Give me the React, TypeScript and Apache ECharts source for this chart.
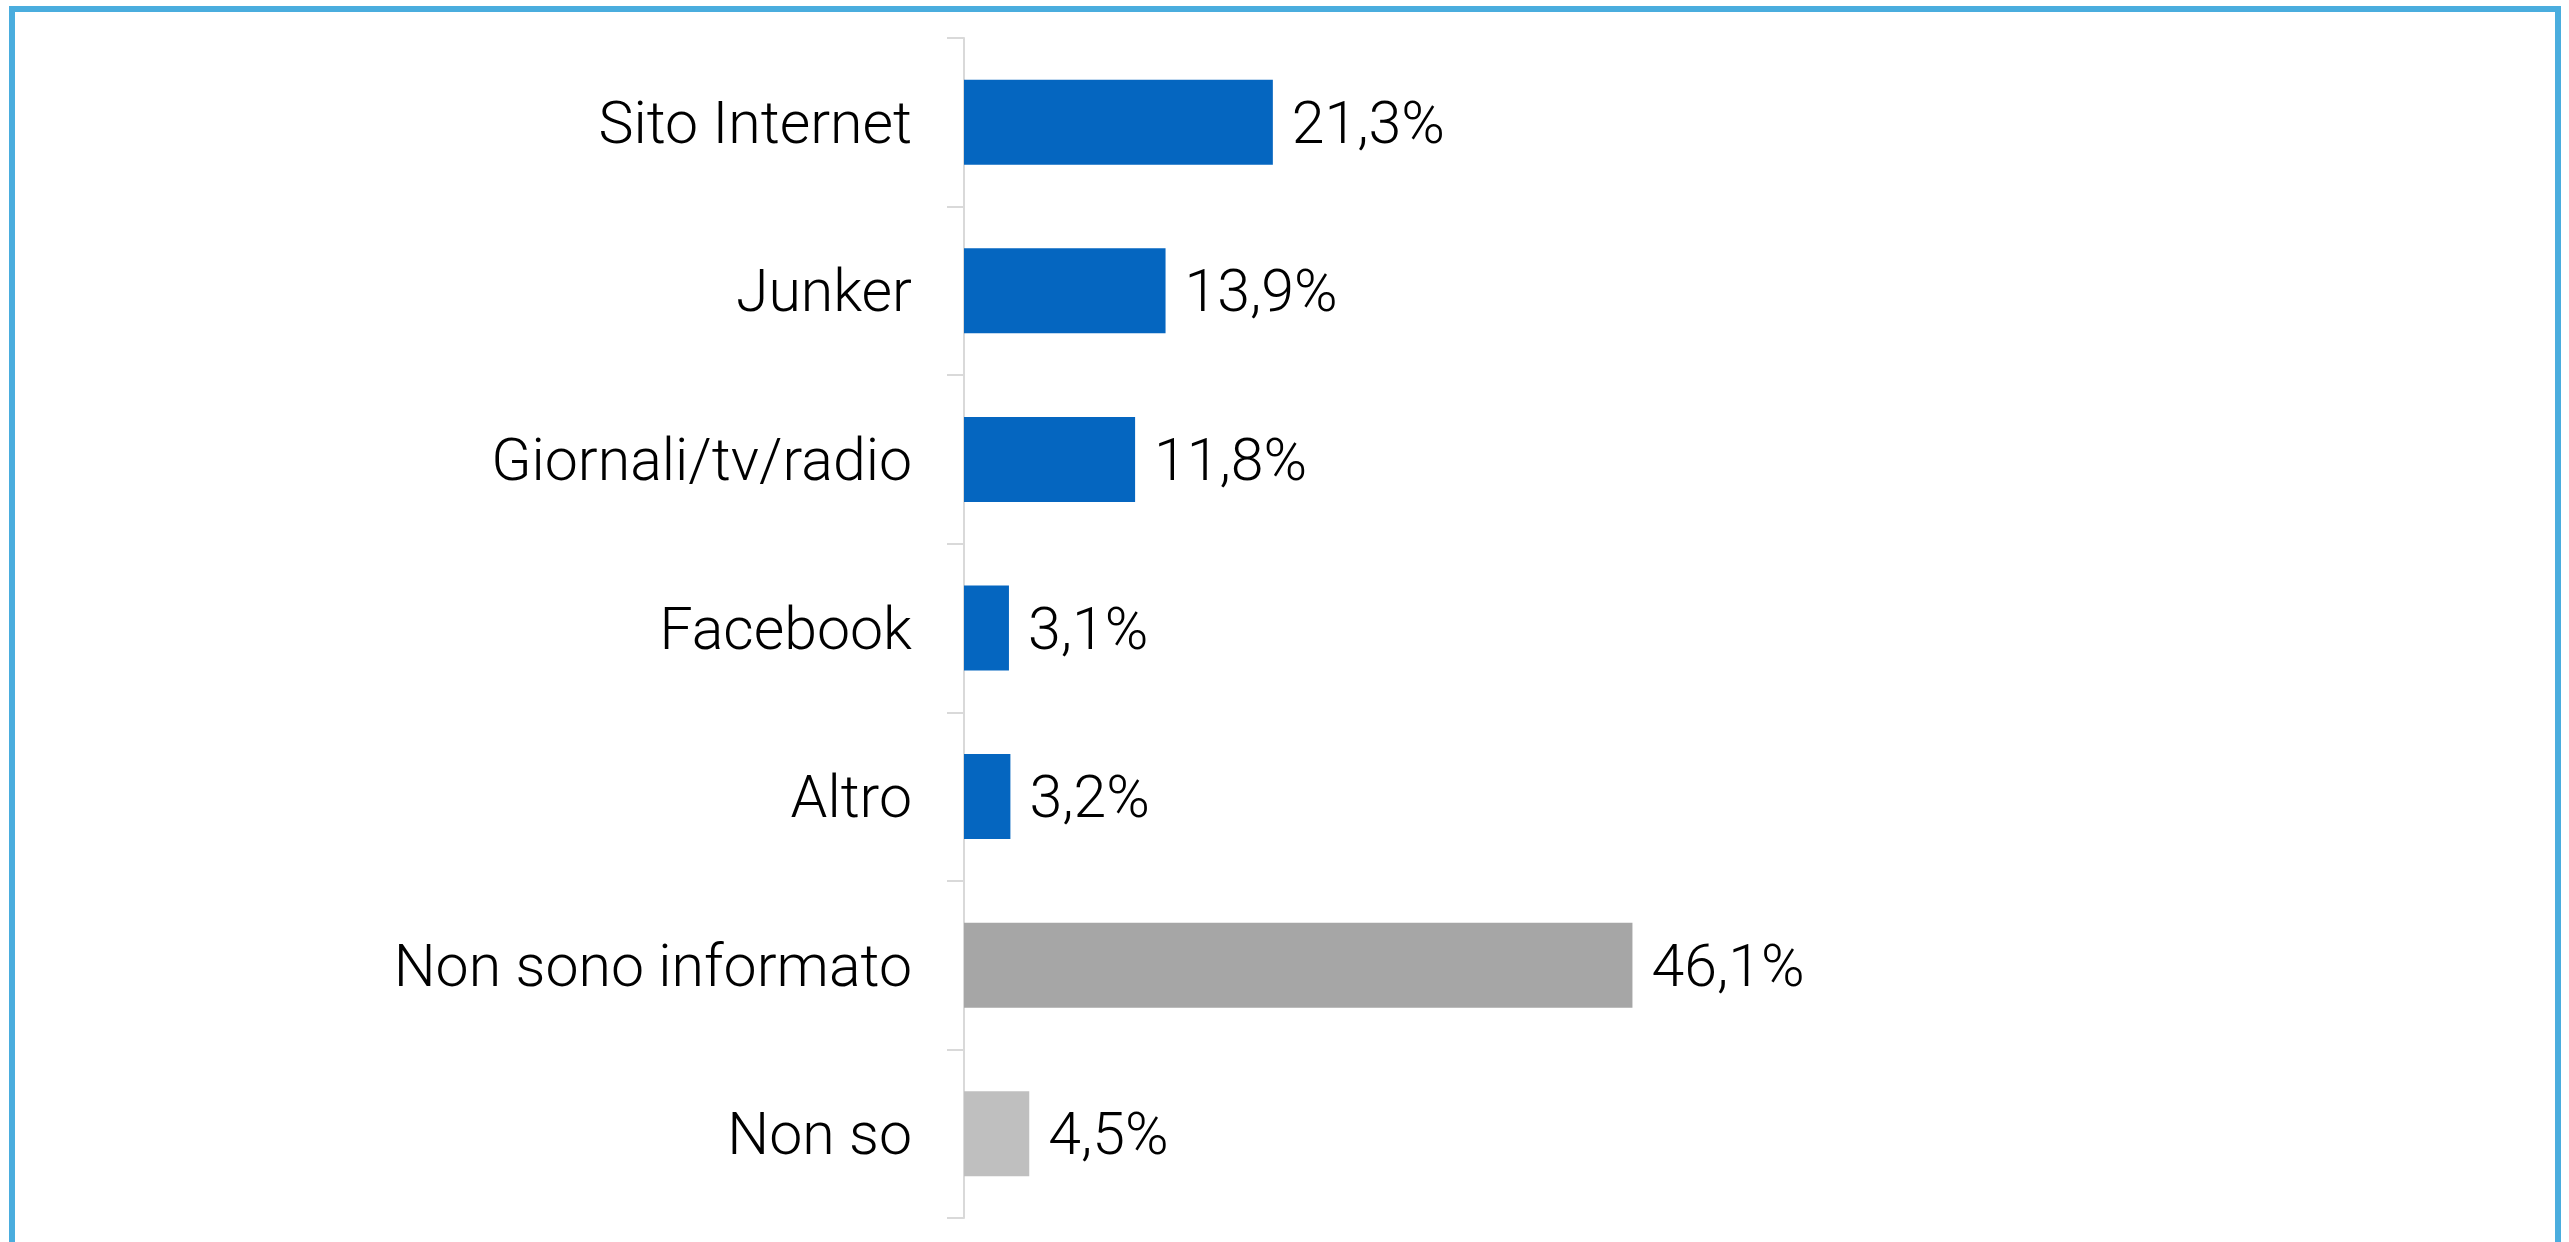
import React, { useEffect, useRef } from "react";
import * as echarts from "echarts";

const categories = [
  "Sito Internet",
  "Junker",
  "Giornali/tv/radio",
  "Facebook",
  "Altro",
  "Non sono informato",
  "Non so",
];
const values = [21.3, 13.9, 11.8, 3.1, 3.2, 46.1, 4.5];
const barColors = ["#0566C0", "#0566C0", "#0566C0", "#0566C0", "#0566C0", "#A6A6A6", "#BFBFBF"];

const FONT = "Roboto";

export default function App() {
  const ref = useRef<HTMLDivElement>(null);
  useEffect(() => {
    document.body.style.overflow = "hidden";
    const chart = echarts.init(ref.current!, null, { renderer: "svg" });
    chart.setOption({
      animation: false,
      backgroundColor: "#ffffff",
      graphic: [
        {
          type: "rect",
          shape: { x: 12, y: 9, width: 2546, height: 1300 },
          style: { fill: "none", stroke: "#4AADDE", lineWidth: 6 },
          silent: true,
          z: 100,
        },
      ],
      grid: { left: 964, right: 880, top: 38, bottom: 24, containLabel: false },
      xAxis: {
        type: "value",
        min: 0,
        max: 50,
        show: false,
        splitLine: { show: false },
      },
      yAxis: {
        type: "category",
        data: categories,
        inverse: true,
        axisLine: { show: true, lineStyle: { color: "#D9D9D9", width: 2 } },
        axisTick: { show: true, length: 17, lineStyle: { color: "#D9D9D9", width: 2 } },
        axisLabel: {
          margin: 52,
          fontFamily: FONT,
          fontWeight: 300,
          fontSize: 59,
          color: "#000000",
        },
        splitLine: { show: false },
      },
      series: [
        {
          type: "bar",
          data: values.map((v, i) => ({ value: v, itemStyle: { color: barColors[i] } })),
          barWidth: 85,
          label: {
            show: true,
            position: "right",
            distance: 19,
            fontFamily: FONT,
            fontWeight: 300,
            fontSize: 59,
            color: "#000000",
            formatter: (p: any) => String(p.value.toFixed(1)).replace(".", ",") + "%",
          },
        },
      ],
    });
    return () => chart.dispose();
  }, []);
  return (
    <div
      ref={ref}
      style={{ position: "absolute", left: 0, top: 0, width: 2569, height: 1242 }}
    />
  );
}
